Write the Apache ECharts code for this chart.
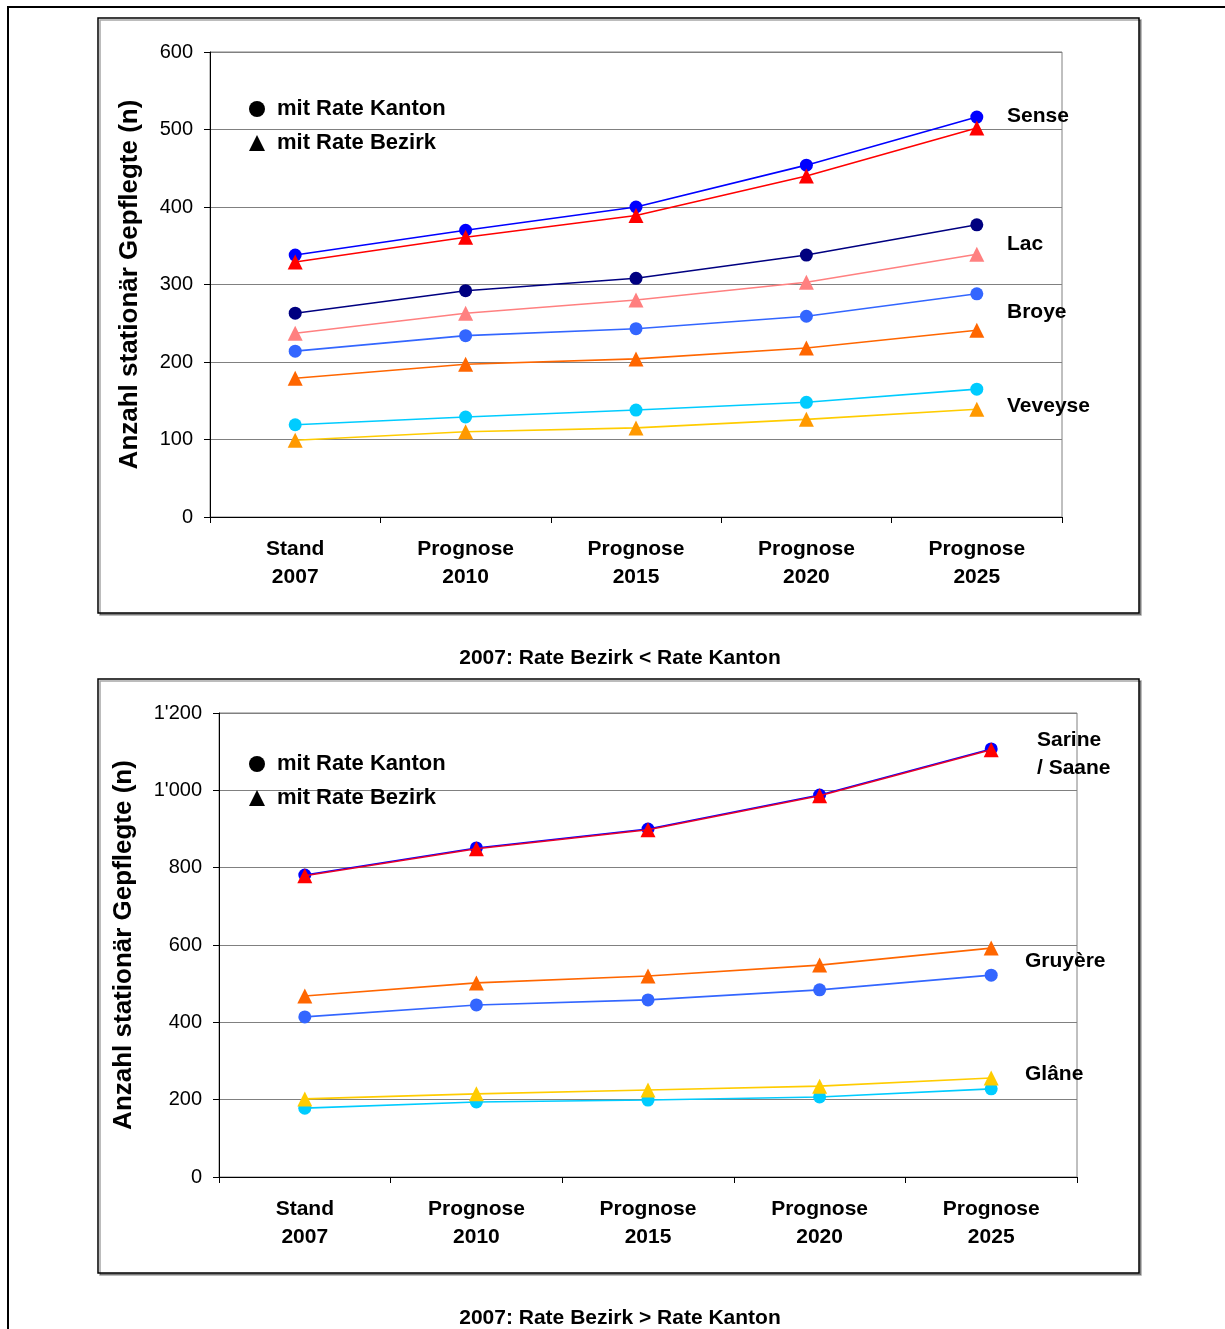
<!DOCTYPE html>
<html>
<head>
<meta charset="utf-8">
<script src="https://cdn.jsdelivr.net/npm/echarts@6/dist/echarts.min.js"></script>
<style>
html,body{margin:0;padding:0;background:#fff;}
#c{width:1225px;height:1329px;}
</style>
</head>
<body>
<div id="c"></div>
<script>
// ---- data ----
const categories = ['Stand\n2007', 'Prognose\n2010', 'Prognose\n2015', 'Prognose\n2020', 'Prognose\n2025'];

// Chart 1: 2007: Rate Bezirk < Rate Kanton
const senseKanton   = [338, 370, 400, 454, 516];
const senseBezirk   = [329, 361, 389, 440, 502];
const lacKanton     = [263, 292, 308, 338, 377];
const lacBezirk     = [237, 263, 280, 303, 339];
const broyeKanton   = [214, 234, 243, 259, 288];
const broyeBezirk   = [179, 197, 204, 218, 241];
const veveyseKanton = [119, 129, 138, 148, 165];
const veveyseBezirk = [99, 110, 115, 126, 139];

// Chart 2: 2007: Rate Bezirk > Rate Kanton
const sarineKanton  = [781, 851, 900, 988, 1107];
const sarineBezirk  = [779, 849, 898, 986, 1105];
const gruyereKanton = [414, 445, 458, 484, 522];
const gruyereBezirk = [468, 502, 520, 548, 592];
const glaneKanton   = [178, 194, 199, 207, 228];
const glaneBezirk   = [202, 215, 225, 235, 256];

const legendNames = ['mit Rate Kanton', 'mit Rate Bezirk'];
const yTitle = 'Anzahl stationär Gepflegte (n)';
const caption1 = '2007: Rate Bezirk < Rate Kanton';
const caption2 = '2007: Rate Bezirk > Rate Kanton';

// ---- chart ----
const FONT = '"Liberation Sans", Arial, Helvetica, sans-serif';
const chart = echarts.init(document.getElementById('c'), null, {renderer: 'canvas'});

function fmtThousands(v) {
  if (v >= 1000) return Math.floor(v / 1000) + "'" + String(v % 1000).padStart(3, '0');
  return String(v);
}

function kanton(name, data, color, gi) {
  return {
    name: name, type: 'line', data: data, xAxisIndex: gi, yAxisIndex: gi,
    symbol: 'circle', symbolSize: 13,
    lineStyle: {color: color, width: 1.6},
    itemStyle: {color: color},
    emphasis: {disabled: true}, animation: false, z: 3
  };
}
function bezirk(name, data, lineColor, markColor, gi) {
  return {
    name: name, type: 'line', data: data, xAxisIndex: gi, yAxisIndex: gi,
    symbol: 'triangle', symbolSize: 15,
    lineStyle: {color: lineColor, width: 1.6},
    itemStyle: {color: markColor},
    emphasis: {disabled: true}, animation: false, z: 4
  };
}

function xAxisDef(gi) {
  return {
    type: 'category', gridIndex: gi, data: categories, boundaryGap: true,
    axisLine: {show: true, lineStyle: {color: '#000', width: 1}},
    axisTick: {show: true, length: 6, interval: 0, lineStyle: {color: '#000'}},
    axisLabel: {interval: 0, margin: 18, fontFamily: FONT, fontSize: 21, fontWeight: 'bold', color: '#000', lineHeight: 28},
    splitLine: {show: false}
  };
}
function yAxisDef(gi, max, interval, gap, formatter) {
  return {
    type: 'value', gridIndex: gi, min: 0, max: max, interval: interval,
    name: yTitle, nameLocation: 'middle', nameRotate: 90, nameGap: gap,
    nameTextStyle: {fontFamily: FONT, fontSize: 26, fontWeight: 'bold', color: '#000'},
    axisLine: {show: true, lineStyle: {color: '#000', width: 1}},
    axisTick: {show: true, length: 6, lineStyle: {color: '#000'}},
    axisLabel: {margin: 17, fontFamily: FONT, fontSize: 20, color: '#000', formatter: formatter},
    splitLine: {show: true, lineStyle: {color: '#808080', width: 1}}
  };
}

function legendDef(left, top) {
  return {
    orient: 'vertical', left: left, top: top,
    itemWidth: 16, itemHeight: 16, itemGap: 12,
    selectedMode: false,
    data: [{name: legendNames[0], icon: 'circle'}, {name: legendNames[1], icon: 'triangle'}],
    textStyle: {fontFamily: FONT, fontSize: 22, fontWeight: 'bold', color: '#000', padding: [0, 0, 0, 7]}
  };
}

function label(text, x, y) {
  return {
    type: 'text', x: x, y: y, z: 10,
    style: {text: text, fill: '#000', font: 'bold 21px ' + FONT, textAlign: 'left', textVerticalAlign: 'middle'}
  };
}
function caption(text, y) {
  return {
    type: 'text', x: 620, y: y, z: 10,
    style: {text: text, fill: '#000', font: 'bold 21px ' + FONT, textAlign: 'center', textVerticalAlign: 'middle'}
  };
}
function box(x, y, w, h) {
  return {
    type: 'rect', z: -10, silent: true,
    shape: {x: x, y: y, width: w, height: h},
    style: {fill: '#fff', stroke: '#000', lineWidth: 1.5, shadowColor: 'rgba(0,0,0,0.35)', shadowOffsetX: 2, shadowOffsetY: 2, shadowBlur: 0}
  };
}

const option = {
  backgroundColor: '#fff',
  animation: false,
  grid: [
    {left: 210, top: 52, width: 852, height: 465, show: true, borderColor: '#808080', borderWidth: 1, backgroundColor: 'transparent'},
    {left: 219, top: 713, width: 858, height: 464, show: true, borderColor: '#808080', borderWidth: 1, backgroundColor: 'transparent'}
  ],
  xAxis: [xAxisDef(0), xAxisDef(1)],
  yAxis: [
    yAxisDef(0, 600, 100, 67),
    yAxisDef(1, 1200, 200, 82, fmtThousands)
  ],
  legend: [legendDef(244, 93), legendDef(244, 748)],
  series: [
    // legend-only dummy series
    {name: legendNames[0], type: 'line', data: [], symbol: 'circle', itemStyle: {color: '#000'}, lineStyle: {color: '#000'}},
    {name: legendNames[1], type: 'line', data: [], symbol: 'triangle', itemStyle: {color: '#000'}, lineStyle: {color: '#000'}},
    // chart 1
    kanton('Sense (Kanton)', senseKanton, '#0000FF', 0),
    bezirk('Sense (Bezirk)', senseBezirk, '#FF0000', '#FF0000', 0),
    kanton('Lac (Kanton)', lacKanton, '#000080', 0),
    bezirk('Lac (Bezirk)', lacBezirk, '#FF8080', '#FF8080', 0),
    kanton('Broye (Kanton)', broyeKanton, '#3366FF', 0),
    bezirk('Broye (Bezirk)', broyeBezirk, '#FF6600', '#FF6600', 0),
    kanton('Veveyse (Kanton)', veveyseKanton, '#00CCFF', 0),
    bezirk('Veveyse (Bezirk)', veveyseBezirk, '#FFCC00', '#FF9900', 0),
    // chart 2
    kanton('Sarine (Kanton)', sarineKanton, '#0000FF', 1),
    bezirk('Sarine (Bezirk)', sarineBezirk, '#E8002A', '#FF0000', 1),
    kanton('Gruyère (Kanton)', gruyereKanton, '#3366FF', 1),
    bezirk('Gruyère (Bezirk)', gruyereBezirk, '#FF6600', '#FF6600', 1),
    kanton('Glâne (Kanton)', glaneKanton, '#00CCFF', 1),
    bezirk('Glâne (Bezirk)', glaneBezirk, '#FFCC00', '#FFCC00', 1)
  ],
  graphic: [
    {type: 'rect', z: -20, silent: true, shape: {x: 8, y: 7, width: 1240, height: 1340}, style: {fill: 'none', stroke: '#000', lineWidth: 2}},
    box(98, 18, 1041, 595),
    box(98, 679, 1041, 594),
    label('Sense', 1007, 116),
    label('Lac', 1007, 244),
    label('Broye', 1007, 312),
    label('Veveyse', 1007, 406),
    label('Sarine', 1037, 740),
    label('/ Saane', 1037, 768),
    label('Gruyère', 1025, 961),
    label('Glâne', 1025, 1074),
    caption(caption1, 658),
    caption(caption2, 1318)
  ]
};
chart.setOption(option);
</script>
</body>
</html>
